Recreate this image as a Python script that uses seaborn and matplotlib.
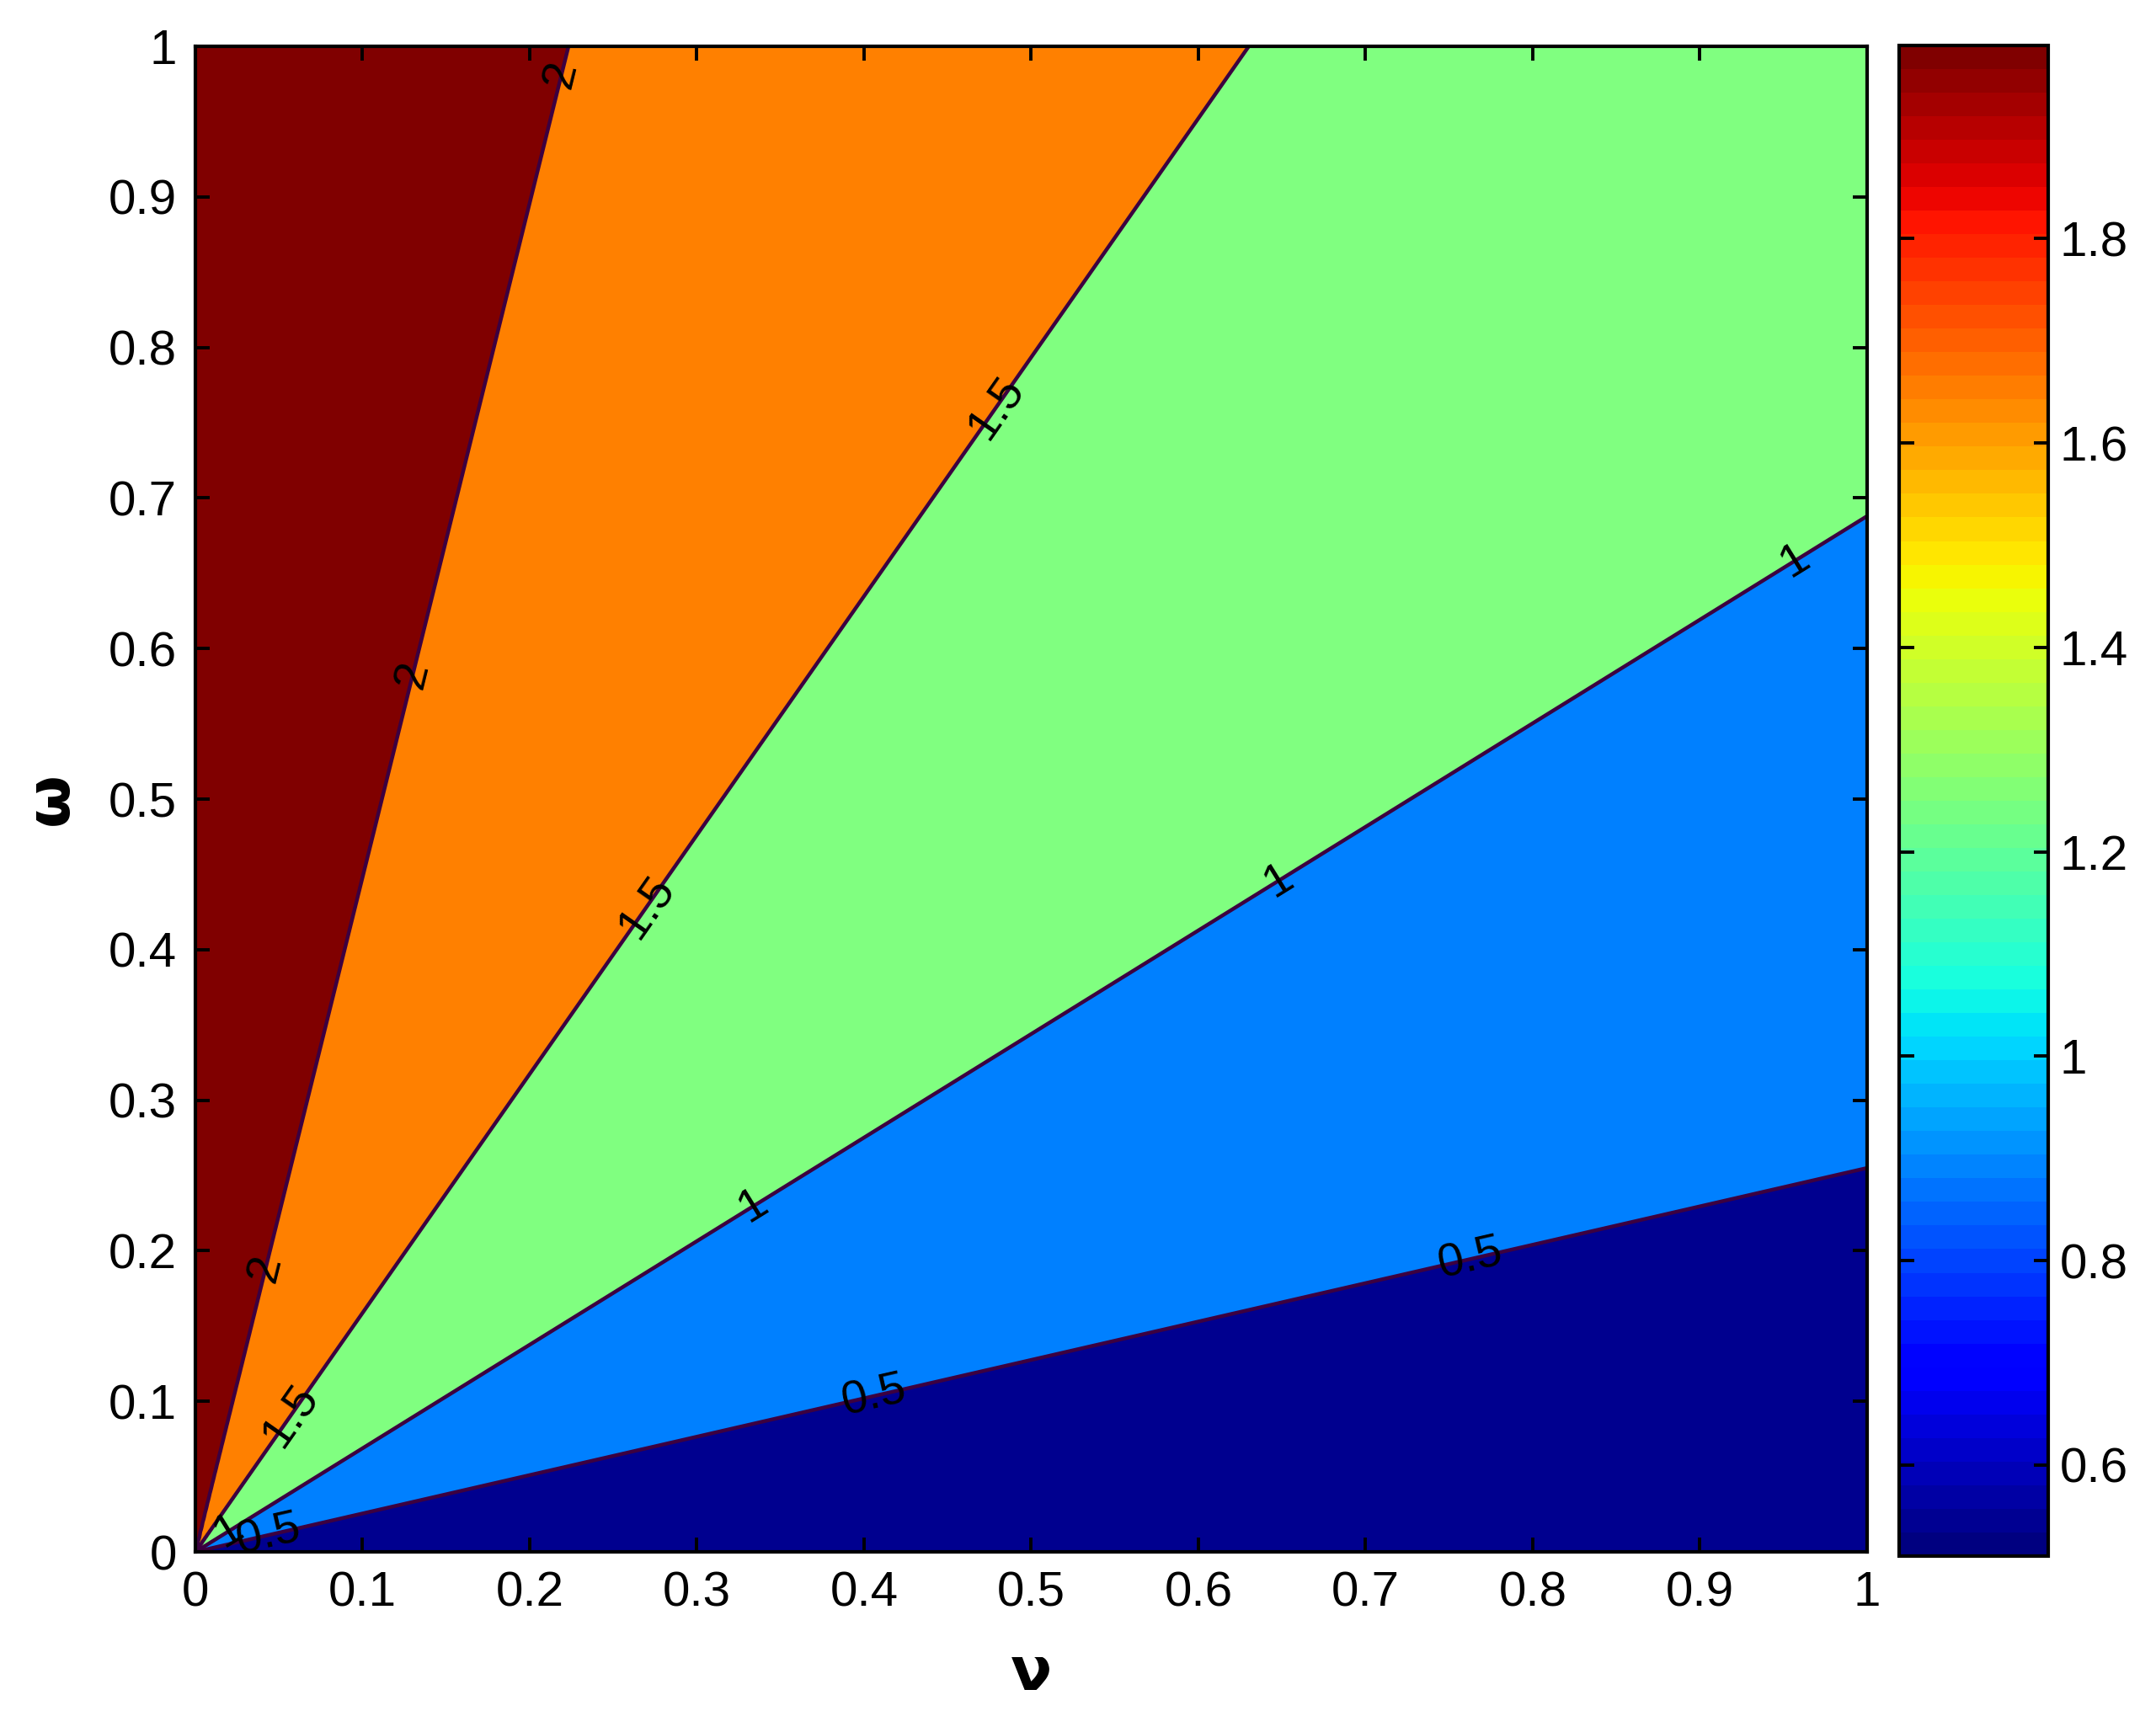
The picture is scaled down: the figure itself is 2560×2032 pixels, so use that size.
import numpy as np
import matplotlib
matplotlib.use("Agg")
import matplotlib.pyplot as plt
import seaborn as sns
from matplotlib.colors import Normalize
from matplotlib.cm import ScalarMappable

# contour levels and where each one sits (slope omega/nu)
levels = [0.5, 1.0, 1.5, 2.0]
level_labels = ["0.5", "1", "1.5", "2"]
boundary_slope = [0.255, 0.688, 1.587, 4.48]

# where the inline labels sit along each line (nu value)
label_nu = {
    0.5: [0.044, 0.406, 0.763],
    1.0: [0.020, 0.334, 0.648, 0.957],
    1.5: [0.057, 0.270, 0.479],
    2.0: [0.042, 0.130, 0.219],
}

region_colors = ["#00008f", "#0080ff", "#80ff80", "#ff8000", "#800000"]
line_color = "#3c0040"

cbar_min, cbar_max = 0.511, 1.989
cbar_ticks = [0.6, 0.8, 1.0, 1.2, 1.4, 1.6, 1.8]
axis_ticks = [0, 0.1, 0.2, 0.3, 0.4, 0.5, 0.6, 0.7, 0.8, 0.9, 1]

sns.set_theme(style="white")
plt.rcParams["font.family"] = ["Liberation Sans", "DejaVu Sans"]
plt.rcParams["text.color"] = "black"
plt.rcParams["axes.labelcolor"] = "black"

# grid of the ratio omega/nu
nu = np.linspace(1e-4, 1, 700)
om = np.linspace(0, 1, 700)
NU, OM = np.meshgrid(nu, om)
Z = OM / NU

fig = plt.figure(figsize=(12.8, 10.16), dpi=200)
ax = fig.add_axes([0.0906, 0.0930, 0.7754, 0.8799])
ax.set_axisbelow(False)

fill_levels = [0] + boundary_slope + [1e9]
ax.contourf(NU, OM, Z, levels=fill_levels, colors=region_colors)
cs = ax.contour(NU, OM, Z, levels=boundary_slope, colors=line_color, linewidths=1.6)

fmt = {s: lab for s, lab in zip(boundary_slope, level_labels)}
positions = []
for lev, s in zip(levels, boundary_slope):
    for v in label_nu[lev]:
        positions.append((v, s * v))
ax.clabel(cs, fmt=fmt, manual=positions, inline=False, fontsize=20, colors="black")

ax.set_xlim(0, 1)
ax.set_ylim(0, 1)
ax.set_xticks(axis_ticks)
ax.set_yticks(axis_ticks)
ax.set_xticklabels([f"{t:g}" for t in axis_ticks])
ax.set_yticklabels([f"{t:g}" for t in axis_ticks])
ax.tick_params(axis="both", direction="in", length=6, width=1.4, labelsize=21,
               top=True, right=True, bottom=True, left=True, pad=8, colors="black")
for sp in ax.spines.values():
    sp.set_color("black")
    sp.set_linewidth(1.5)

ax.set_xlabel("ν", fontsize=26, fontweight="bold", family="DejaVu Sans",
              color="black", labelpad=12)
ax.set_ylabel("ω", fontsize=26, fontweight="bold", family="DejaVu Sans",
              color="black", labelpad=12)

# colorbar
cax = fig.add_axes([0.8809, 0.0906, 0.0691, 0.8829])
jet64 = plt.get_cmap("jet", 64)
sm = ScalarMappable(norm=Normalize(cbar_min, cbar_max), cmap=jet64)
cb = fig.colorbar(sm, cax=cax, ticks=cbar_ticks)
cax.set_axisbelow(False)
cb.ax.set_yticklabels([f"{t:g}" for t in cbar_ticks])
cb.outline.set_linewidth(1.5)
cb.outline.set_edgecolor("black")
cax.tick_params(axis="y", direction="in", length=6.3, width=1.4, labelsize=21,
                left=True, right=True, pad=5, colors="black")

fig.savefig("out.png", dpi=200)
